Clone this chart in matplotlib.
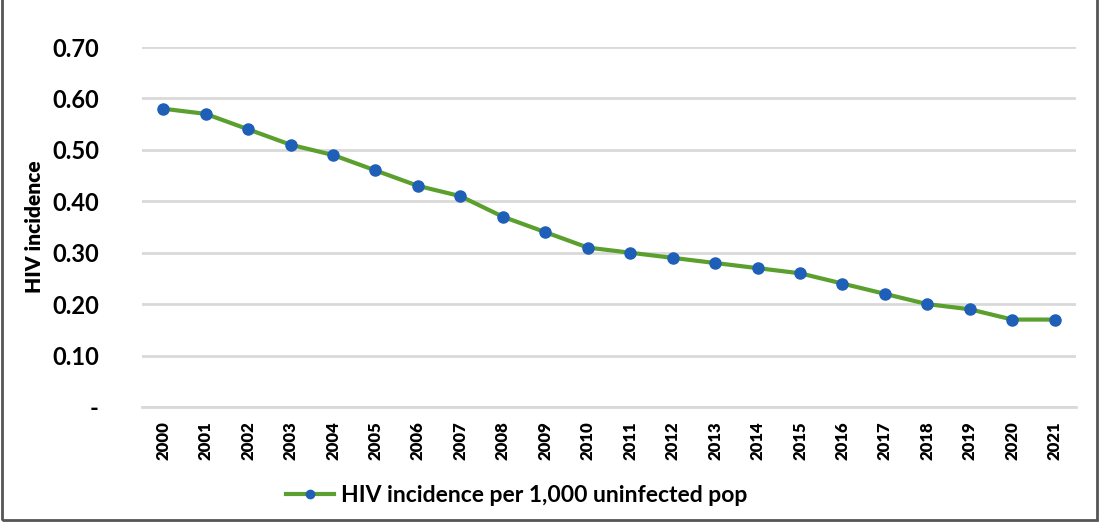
import matplotlib.pyplot as plt
from matplotlib.patches import Rectangle

years = [str(y) for y in range(2000, 2022)]
incidence = [0.58, 0.57, 0.54, 0.51, 0.49, 0.46, 0.43, 0.41, 0.37, 0.34, 0.31,
             0.30, 0.29, 0.28, 0.27, 0.26, 0.24, 0.22, 0.20, 0.19, 0.17, 0.17]
y_ticks = [0, 0.1, 0.2, 0.3, 0.4, 0.5, 0.6, 0.7]
y_labels = ['-', '0.10', '0.20', '0.30', '0.40', '0.50', '0.60', '0.70']

plt.rcParams['font.family'] = ['Lato', 'DejaVu Sans']

fig = plt.figure(figsize=(11.03, 5.24), dpi=100)
ax = fig.add_axes([0.1287, 0.2233, 0.8468, 0.687])

x = range(len(years))
ax.plot(x, incidence, color='#5b9f2e', linewidth=3,
        marker='o', markersize=8, markerfacecolor='#1f5fb8',
        markeredgecolor='#1f5fb8', label='HIV incidence per 1,000 uninfected pop')

ax.set_xlim(-0.5, len(years) - 0.5)
ax.set_ylim(0, 0.7)
ax.set_yticks(y_ticks)
ax.set_yticklabels(y_labels, fontsize=17, fontweight='bold')
ax.set_xticks(list(x))
ax.set_xticklabels(years, rotation=90, fontsize=12, fontweight='heavy')
ax.tick_params(axis='both', length=0)
ax.tick_params(axis='y', pad=31)
ax.tick_params(axis='x', pad=10)

ax.grid(axis='y', color='#d9d9d9', linewidth=2)
ax.set_axisbelow(True)
for s in ['top', 'right', 'left']:
    ax.spines[s].set_visible(False)
ax.spines['bottom'].set_color('#d9d9d9')
ax.spines['bottom'].set_linewidth(2)

ax.set_ylabel('HIV incidence', fontsize=15, fontweight='heavy', labelpad=6)

leg = fig.legend(loc='center', bbox_to_anchor=(0.468, 0.055), frameon=False,
                 fontsize=16.5, handlelength=2.1, handletextpad=0.3)
for t in leg.get_texts():
    t.set_fontweight('bold')
leg.legend_handles[0].set_markersize(6)

fig.patches.append(Rectangle((0.002, 0.008), 0.993, 1.5, transform=fig.transFigure,
                             fill=False, edgecolor='#555555', linewidth=2))

fig.savefig('out.png', dpi=100)
